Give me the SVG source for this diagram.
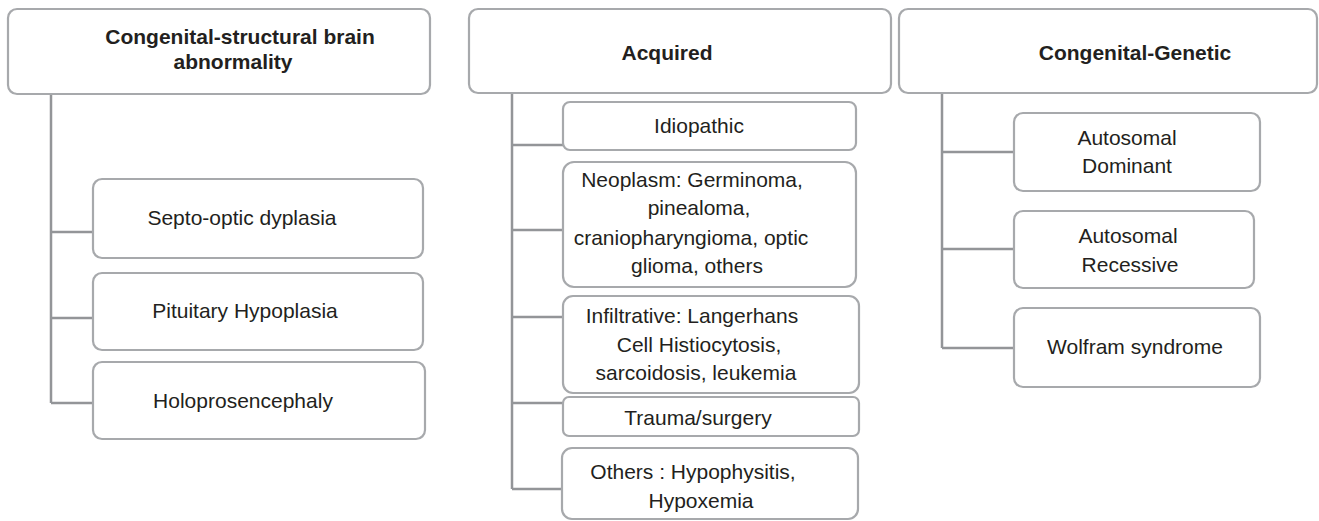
<svg xmlns="http://www.w3.org/2000/svg" width="1319" height="521" viewBox="0 0 1319 521">
<style>
.box{fill:#fff;stroke:#a7a9ac;stroke-width:2.2}
.t{font-family:"Liberation Sans",Arial,sans-serif;font-size:21px;fill:#231f20;text-anchor:middle}
.b{font-weight:bold}
.c{fill:none;stroke:#939598;stroke-width:2.5}
</style>
<rect width="1319" height="521" fill="#fff"/>
<g id="connectors">
<path class="c" d="M51 94V403M51 232H93M51 318H93M51 403H93"/>
<path class="c" d="M512 93V489M512 145H563M512 230H563M512 317H563M512 403H563M512 489H562"/>
<path class="c" d="M942 93V348M942 152H1014M942 249H1014M942 348H1014"/>
</g>
<g id="n1"><rect class="box" x="8" y="9" width="422" height="85" rx="9"/>
<text class="t b" x="240" y="44">Congenital-structural brain</text>
<text class="t b" x="233" y="69">abnormality</text></g>
<g id="n1a"><rect class="box" x="93" y="179" width="330" height="79" rx="9"/>
<text class="t" x="242" y="225">Septo-optic dyplasia</text></g>
<g id="n1b"><rect class="box" x="93" y="273" width="330" height="77" rx="9"/>
<text class="t" x="245" y="318">Pituitary Hypoplasia</text></g>
<g id="n1c"><rect class="box" x="93" y="362" width="332" height="77" rx="9"/>
<text class="t" x="243" y="408">Holoprosencephaly</text></g>
<g id="n2"><rect class="box" x="469" y="9" width="422" height="84" rx="9"/>
<text class="t b" x="667" y="60">Acquired</text></g>
<g id="n2a"><rect class="box" x="563" y="102" width="293" height="48" rx="7"/>
<text class="t" x="699" y="133">Idiopathic</text></g>
<g id="n2b"><rect class="box" x="563" y="162" width="293" height="125" rx="11"/>
<text class="t" x="692" y="187">Neoplasm: Germinoma,</text>
<text class="t" x="699" y="215">pinealoma,</text>
<text class="t" x="691" y="245">craniopharyngioma, optic</text>
<text class="t" x="697" y="273">glioma, others</text></g>
<g id="n2c"><rect class="box" x="563" y="296" width="296" height="97" rx="10"/>
<text class="t" x="692" y="323">Infiltrative: Langerhans</text>
<text class="t" x="699" y="352">Cell Histiocytosis,</text>
<text class="t" x="696" y="380">sarcoidosis, leukemia</text></g>
<g id="n2d"><rect class="box" x="563" y="397" width="296" height="39" rx="6"/>
<text class="t" x="698" y="425">Trauma/surgery</text></g>
<g id="n2e"><rect class="box" x="562" y="448" width="296" height="71" rx="10"/>
<text class="t" x="693" y="479">Others : Hypophysitis,</text>
<text class="t" x="701" y="508">Hypoxemia</text></g>
<g id="n3"><rect class="box" x="899" y="9" width="418" height="84" rx="9"/>
<text class="t b" x="1135" y="60">Congenital-Genetic</text></g>
<g id="n3a"><rect class="box" x="1014" y="113" width="246" height="78" rx="9"/>
<text class="t" x="1127" y="145">Autosomal</text>
<text class="t" x="1127" y="173">Dominant</text></g>
<g id="n3b"><rect class="box" x="1014" y="211" width="240" height="77" rx="9"/>
<text class="t" x="1128" y="243">Autosomal</text>
<text class="t" x="1130" y="272">Recessive</text></g>
<g id="n3c"><rect class="box" x="1014" y="308" width="246" height="79" rx="9"/>
<text class="t" x="1135" y="354">Wolfram syndrome</text></g>
</svg>
